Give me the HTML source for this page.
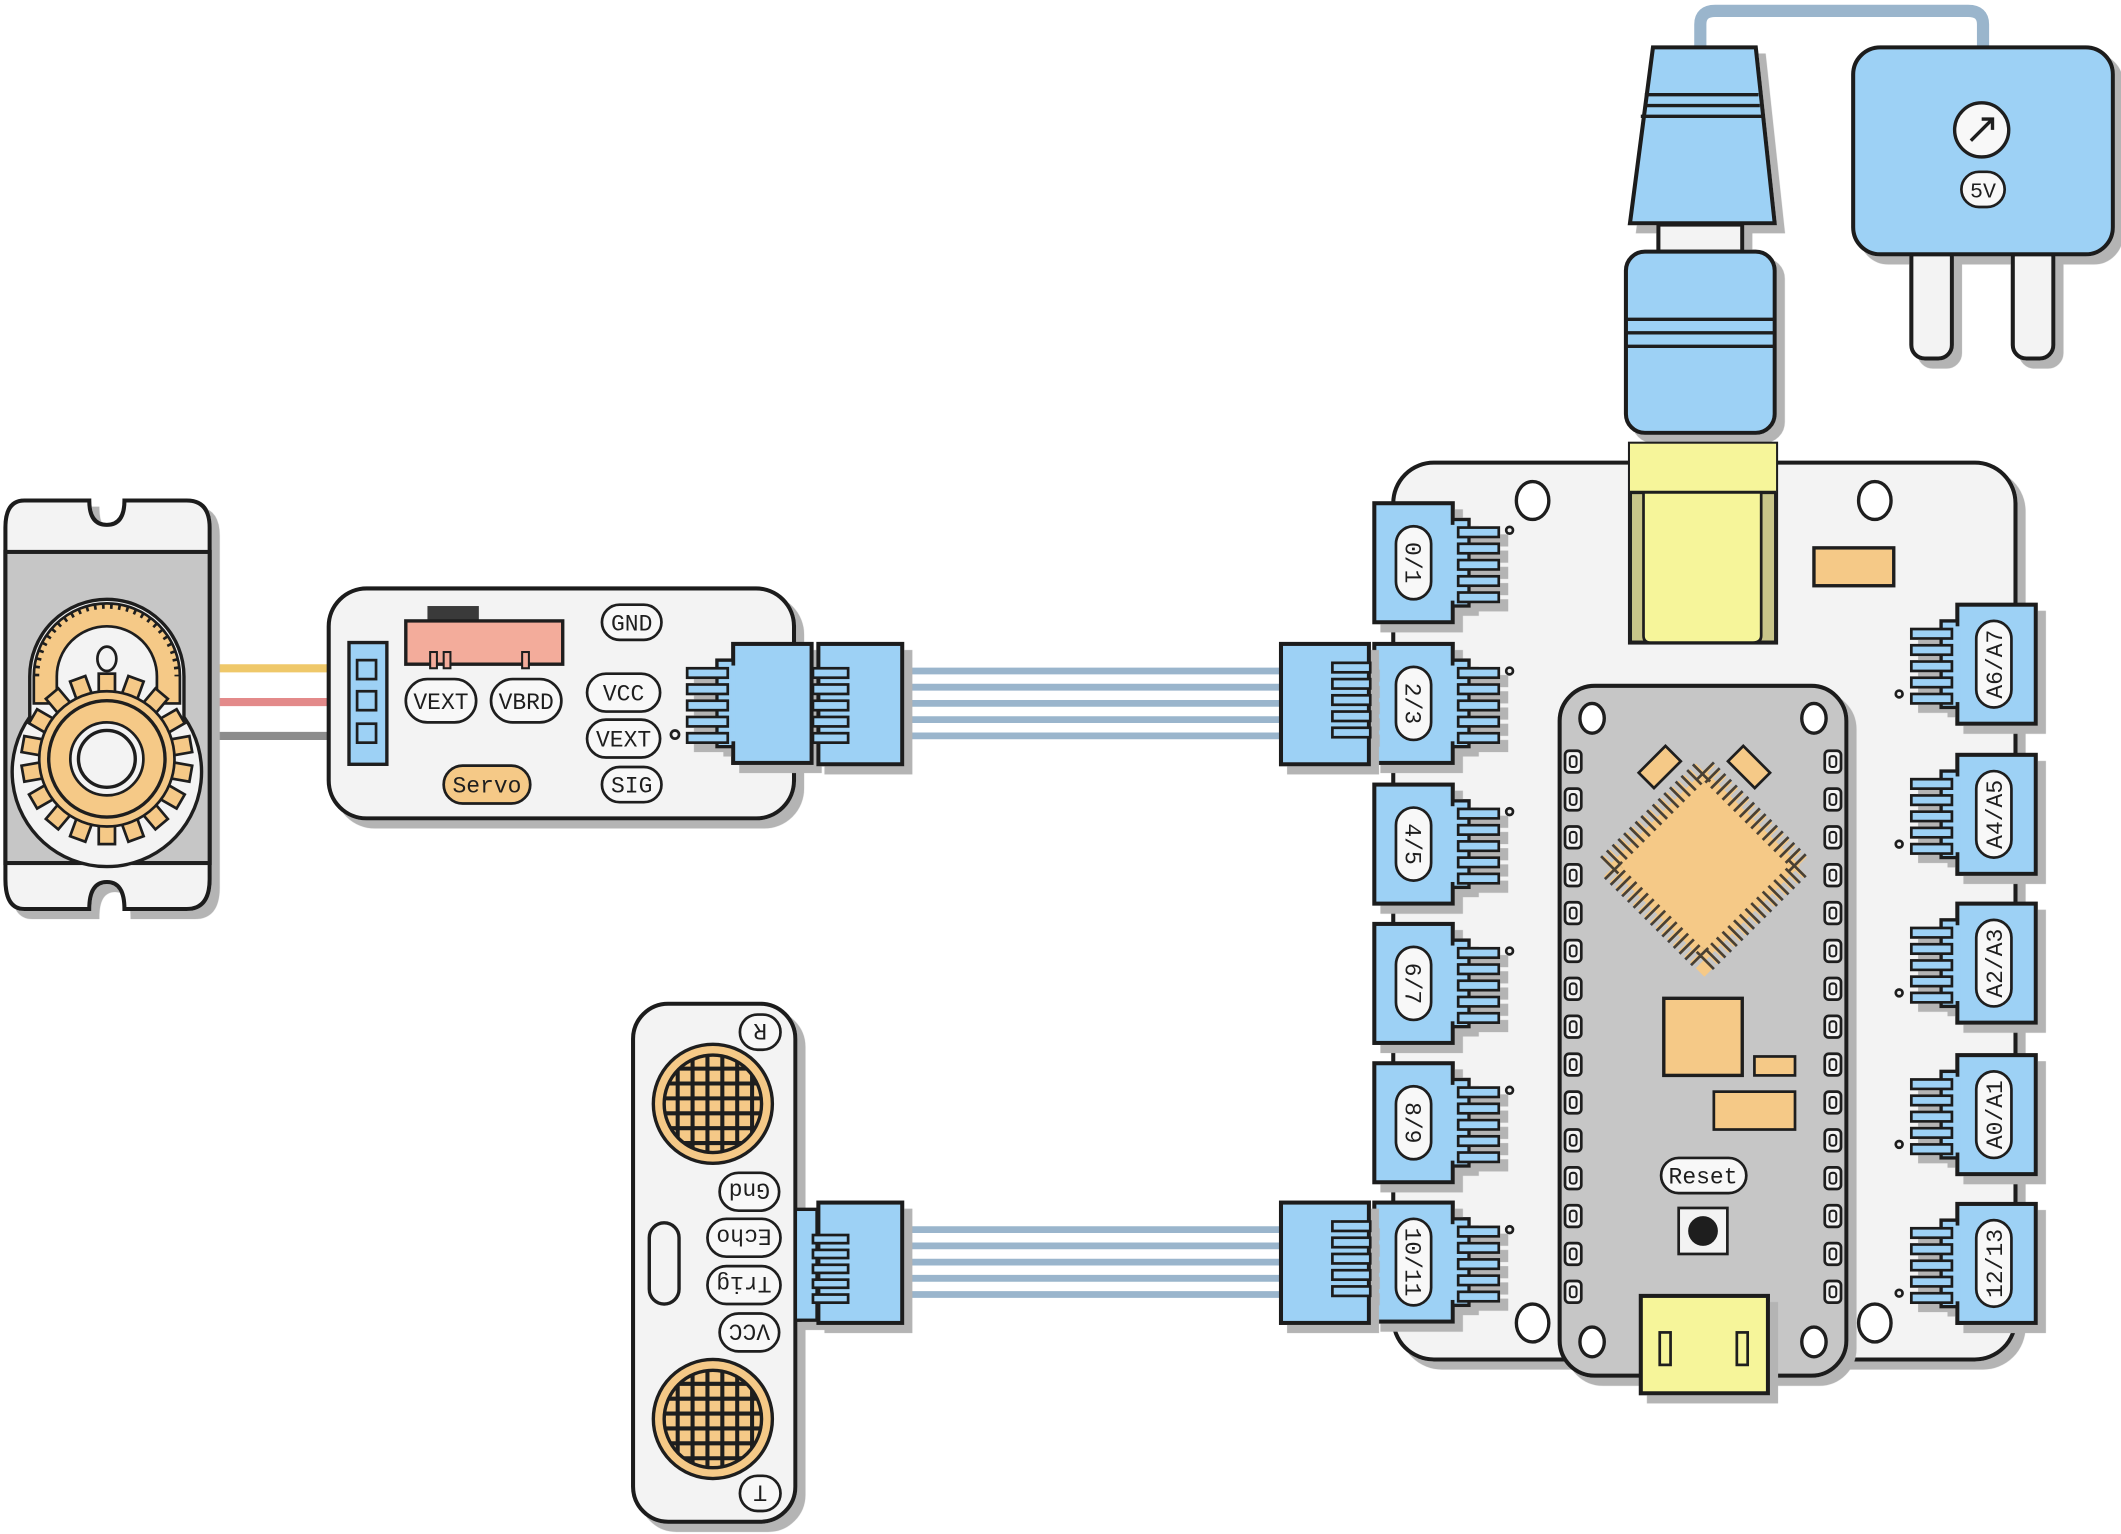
<!DOCTYPE html>
<html><head><meta charset="utf-8"><style>
html,body{margin:0;padding:0;background:#fff;}
svg{display:block;}
text{font-family:"Liberation Mono",monospace;fill:#1e1e1e;}
</style></head><body>
<svg width="2121" height="1534" viewBox="0 0 1568 1134" xmlns="http://www.w3.org/2000/svg">
<defs>
<filter id="sh" x="-10%" y="-10%" width="130%" height="130%"><feDropShadow dx="6" dy="6" stdDeviation="0" flood-color="#b4b4b4"/></filter>
<clipPath id="c1"><circle cx="527" cy="816" r="36"/></clipPath>
<clipPath id="c2"><circle cx="527" cy="1049" r="36"/></clipPath>
<g id="portL">
 <rect x="0" y="0" width="58" height="88" fill="#9dd1f5" stroke="#1e1e1e" stroke-width="3"/>
 <rect x="58" y="12" width="12" height="64" fill="#9dd1f5" stroke="#1e1e1e" stroke-width="2.5"/>
 <rect x="56" y="16" width="4" height="56" fill="#9dd1f5"/>
 <g fill="#9dd1f5" stroke="#1e1e1e" stroke-width="2">
  <rect x="62" y="18" width="30" height="7"/><rect x="62" y="30" width="30" height="7"/>
  <rect x="62" y="42" width="30" height="7"/><rect x="62" y="54" width="30" height="7"/>
  <rect x="62" y="66" width="30" height="7"/>
 </g>
</g>
<g id="pad"><rect x="-6" y="-8" width="12" height="16" rx="3" fill="#f3f3f3" stroke="#1e1e1e" stroke-width="2"/><rect x="-2.5" y="-4" width="5" height="8" rx="2" fill="none" stroke="#1e1e1e" stroke-width="1.5"/></g>
<rect id="tooth" x="-6" y="-63" width="12" height="16" fill="#f5c987" stroke="#1e1e1e" stroke-width="2"/>
</defs>

<!-- power cable -->
<path d="M1257 40 V18 Q1257 8 1268 8 H1455 Q1466 8 1466 18 V40" fill="none" stroke="#9ab5cc" stroke-width="9"/>
<g filter="url(#sh)" stroke="#1e1e1e" stroke-width="3">
 <path d="M1222 35 H1298 L1312 165 H1205 Z" fill="#9dd1f5"/>
 <rect x="1226" y="166" width="62" height="20" fill="#f3f3f3"/>
 <rect x="1202" y="186" width="110" height="134" rx="14" fill="#9dd1f5"/>
</g>
<g stroke="#1e1e1e" stroke-width="2.5">
 <line x1="1216" y1="70" x2="1300" y2="70"/><line x1="1215" y1="78" x2="1301" y2="78"/><line x1="1213" y1="86" x2="1303" y2="86"/>
 <line x1="1202" y1="236" x2="1312" y2="236"/><line x1="1202" y1="246" x2="1312" y2="246"/><line x1="1202" y1="256" x2="1312" y2="256"/>
</g>
<g filter="url(#sh)" stroke="#1e1e1e" stroke-width="3">
 <rect x="1413" y="180" width="30" height="85" rx="10" fill="#f3f3f3"/>
 <rect x="1488" y="180" width="30" height="85" rx="10" fill="#f3f3f3"/>
 <rect x="1370" y="35" width="192" height="153" rx="20" fill="#9dd1f5"/>
</g>
<circle cx="1465" cy="96" r="20" fill="#f8f8f8" stroke="#1e1e1e" stroke-width="2.5"/>
<path d="M1457 104 L1473 88 M1465 88 H1473 V96" fill="none" stroke="#1e1e1e" stroke-width="2.5"/>
<rect x="1450" y="127" width="32" height="26" rx="13" fill="#f8f8f8" stroke="#1e1e1e" stroke-width="2"/>
<text x="1466" y="146" font-size="16" text-anchor="middle">5V</text>

<!-- main board -->
<rect x="1030" y="342" width="460" height="663" rx="30" fill="#f3f3f3" stroke="#1e1e1e" stroke-width="3" filter="url(#sh)"/>
<g fill="#fff" stroke="#1e1e1e" stroke-width="2.5">
 <ellipse cx="1133" cy="370" rx="12" ry="14"/><ellipse cx="1386" cy="370" rx="12" ry="14"/>
 <ellipse cx="1133" cy="978" rx="12" ry="14"/><ellipse cx="1386" cy="978" rx="12" ry="14"/>
</g>
<rect x="1341" y="405" width="59" height="28" fill="#f5c987" stroke="#1e1e1e" stroke-width="2.5"/>
<rect x="1205" y="328" width="108" height="147" fill="#c8c589" stroke="#1e1e1e" stroke-width="3"/>
<rect x="1205" y="328" width="108" height="36" fill="#f6f59a" stroke="none"/>
<line x1="1205" y1="364" x2="1313" y2="364" stroke="#1e1e1e" stroke-width="2.5"/>
<path d="M1215 364 H1302 V470 Q1302 475 1296 475 H1220 Q1215 475 1215 470 Z" fill="#f6f59a" stroke="#1e1e1e" stroke-width="2"/>

<!-- nano -->
<rect x="1153" y="507" width="212" height="510" rx="26" fill="#c6c6c6" stroke="#1e1e1e" stroke-width="3" filter="url(#sh)"/>
<g fill="#fff" stroke="#1e1e1e" stroke-width="2.5">
 <ellipse cx="1177" cy="531" rx="9" ry="11"/><ellipse cx="1341" cy="531" rx="9" ry="11"/>
 <ellipse cx="1177" cy="992" rx="9" ry="11"/><ellipse cx="1341" cy="992" rx="9" ry="11"/>
</g>
<g>
<use href="#pad" x="1163" y="563"/><use href="#pad" x="1163" y="591"/><use href="#pad" x="1163" y="619"/><use href="#pad" x="1163" y="647"/><use href="#pad" x="1163" y="675"/><use href="#pad" x="1163" y="703"/><use href="#pad" x="1163" y="731"/><use href="#pad" x="1163" y="759"/><use href="#pad" x="1163" y="787"/><use href="#pad" x="1163" y="815"/><use href="#pad" x="1163" y="843"/><use href="#pad" x="1163" y="871"/><use href="#pad" x="1163" y="899"/><use href="#pad" x="1163" y="927"/><use href="#pad" x="1163" y="955"/>
<use href="#pad" x="1355" y="563"/><use href="#pad" x="1355" y="591"/><use href="#pad" x="1355" y="619"/><use href="#pad" x="1355" y="647"/><use href="#pad" x="1355" y="675"/><use href="#pad" x="1355" y="703"/><use href="#pad" x="1355" y="731"/><use href="#pad" x="1355" y="759"/><use href="#pad" x="1355" y="787"/><use href="#pad" x="1355" y="815"/><use href="#pad" x="1355" y="843"/><use href="#pad" x="1355" y="871"/><use href="#pad" x="1355" y="899"/><use href="#pad" x="1355" y="927"/><use href="#pad" x="1355" y="955"/>
</g>
<g transform="translate(1260 640) rotate(45)">
 <rect x="-50" y="-50" width="100" height="100" fill="#f5c987" stroke="#f5c987" stroke-width="16" stroke-dasharray="3 3"/>
 <rect x="-50" y="-50" width="100" height="100" fill="none" stroke="#1e1e1e" stroke-width="18" stroke-dasharray="2 4" opacity="0.8"/>
 <rect x="-44" y="-44" width="88" height="88" fill="#f5c987" stroke="none"/>
</g>
<g fill="#f5c987" stroke="#1e1e1e" stroke-width="2">
 <rect x="-8" y="-14" width="16" height="28" transform="translate(1227 567) rotate(45)"/>
 <rect x="-8" y="-14" width="16" height="28" transform="translate(1293 567) rotate(-45)"/>
 <rect x="1230" y="738" width="58" height="57" stroke-width="2.5"/>
 <rect x="1297" y="781" width="30" height="14"/>
 <rect x="1267" y="807" width="60" height="28"/>
</g>
<rect x="1228" y="856" width="63" height="26" rx="13" fill="#f8f8f8" stroke="#1e1e1e" stroke-width="2"/>
<text x="1259" y="875" font-size="17" text-anchor="middle">Reset</text>
<rect x="1241" y="893" width="36" height="34" fill="#f3f3f3" stroke="#1e1e1e" stroke-width="2"/>
<circle cx="1259" cy="910" r="11" fill="#1e1e1e"/>
<rect x="1213" y="958" width="94" height="72" fill="#f6f59a" stroke="#1e1e1e" stroke-width="3" filter="url(#sh)"/>
<rect x="1227" y="985" width="8" height="24" fill="#f6f59a" stroke="#1e1e1e" stroke-width="2"/>
<rect x="1284" y="985" width="8" height="24" fill="#f6f59a" stroke="#1e1e1e" stroke-width="2"/>

<!-- left ports -->
<g filter="url(#sh)">
<use href="#portL" x="1016" y="372"/><use href="#portL" x="1016" y="476"/><use href="#portL" x="1016" y="580"/>
<use href="#portL" x="1016" y="683"/><use href="#portL" x="1016" y="786"/><use href="#portL" x="1016" y="889"/>
</g>
<g fill="#f3f3f3" stroke="#1e1e1e" stroke-width="2">
<circle cx="1116" cy="392" r="2.5"/><circle cx="1116" cy="496" r="2.5"/><circle cx="1116" cy="600" r="2.5"/><circle cx="1116" cy="703" r="2.5"/><circle cx="1116" cy="806" r="2.5"/><circle cx="1116" cy="909" r="2.5"/>
</g>
<g font-size="17" text-anchor="middle">
<g transform="translate(1045 416) rotate(90)"><rect x="-27" y="-13" width="54" height="26" rx="13" fill="#f8f8f8" stroke="#1e1e1e" stroke-width="2"/><text y="6">0/1</text></g>
<g transform="translate(1045 520) rotate(90)"><rect x="-27" y="-13" width="54" height="26" rx="13" fill="#f8f8f8" stroke="#1e1e1e" stroke-width="2"/><text y="6">2/3</text></g>
<g transform="translate(1045 624) rotate(90)"><rect x="-27" y="-13" width="54" height="26" rx="13" fill="#f8f8f8" stroke="#1e1e1e" stroke-width="2"/><text y="6">4/5</text></g>
<g transform="translate(1045 727) rotate(90)"><rect x="-27" y="-13" width="54" height="26" rx="13" fill="#f8f8f8" stroke="#1e1e1e" stroke-width="2"/><text y="6">6/7</text></g>
<g transform="translate(1045 830) rotate(90)"><rect x="-27" y="-13" width="54" height="26" rx="13" fill="#f8f8f8" stroke="#1e1e1e" stroke-width="2"/><text y="6">8/9</text></g>
<g transform="translate(1045 933) rotate(90)"><rect x="-32" y="-13" width="64" height="26" rx="13" fill="#f8f8f8" stroke="#1e1e1e" stroke-width="2"/><text y="6">10/11</text></g>
</g>

<!-- right ports -->
<g filter="url(#sh)">
<use href="#portL" transform="translate(1505 447) scale(-1 1)"/>
<use href="#portL" transform="translate(1505 558) scale(-1 1)"/>
<use href="#portL" transform="translate(1505 668) scale(-1 1)"/>
<use href="#portL" transform="translate(1505 780) scale(-1 1)"/>
<use href="#portL" transform="translate(1505 890) scale(-1 1)"/>
</g>
<g fill="#f3f3f3" stroke="#1e1e1e" stroke-width="2">
<circle cx="1404" cy="513" r="2.5"/><circle cx="1404" cy="624" r="2.5"/><circle cx="1404" cy="734" r="2.5"/><circle cx="1404" cy="846" r="2.5"/><circle cx="1404" cy="956" r="2.5"/>
</g>
<g font-size="17" text-anchor="middle">
<g transform="translate(1474 491) rotate(-90)"><rect x="-32" y="-13" width="64" height="26" rx="13" fill="#f8f8f8" stroke="#1e1e1e" stroke-width="2"/><text y="6">A6/A7</text></g>
<g transform="translate(1474 602) rotate(-90)"><rect x="-32" y="-13" width="64" height="26" rx="13" fill="#f8f8f8" stroke="#1e1e1e" stroke-width="2"/><text y="6">A4/A5</text></g>
<g transform="translate(1474 712) rotate(-90)"><rect x="-32" y="-13" width="64" height="26" rx="13" fill="#f8f8f8" stroke="#1e1e1e" stroke-width="2"/><text y="6">A2/A3</text></g>
<g transform="translate(1474 824) rotate(-90)"><rect x="-32" y="-13" width="64" height="26" rx="13" fill="#f8f8f8" stroke="#1e1e1e" stroke-width="2"/><text y="6">A0/A1</text></g>
<g transform="translate(1474 934) rotate(-90)"><rect x="-32" y="-13" width="64" height="26" rx="13" fill="#f8f8f8" stroke="#1e1e1e" stroke-width="2"/><text y="6">12/13</text></g>
</g>

<!-- cables -->
<g stroke="#9ab5cc" stroke-width="5">
<line x1="665" y1="496" x2="950" y2="496"/><line x1="665" y1="508" x2="950" y2="508"/><line x1="665" y1="520" x2="950" y2="520"/><line x1="665" y1="532" x2="950" y2="532"/><line x1="665" y1="544" x2="950" y2="544"/>
<line x1="665" y1="909" x2="950" y2="909"/><line x1="665" y1="921" x2="950" y2="921"/><line x1="665" y1="933" x2="950" y2="933"/><line x1="665" y1="945" x2="950" y2="945"/><line x1="665" y1="957" x2="950" y2="957"/>
</g>
<g filter="url(#sh)">
<g transform="translate(947 476)"><rect x="0" y="0" width="65" height="89" fill="#9dd1f5" stroke="#1e1e1e" stroke-width="3"/>
<g fill="#9dd1f5" stroke="#1e1e1e" stroke-width="2"><rect x="38" y="14" width="28" height="7"/><rect x="38" y="26" width="28" height="7"/><rect x="38" y="38" width="28" height="7"/><rect x="38" y="50" width="28" height="7"/><rect x="38" y="62" width="28" height="7"/></g></g>
<g transform="translate(947 889)"><rect x="0" y="0" width="65" height="89" fill="#9dd1f5" stroke="#1e1e1e" stroke-width="3"/>
<g fill="#9dd1f5" stroke="#1e1e1e" stroke-width="2"><rect x="38" y="14" width="28" height="7"/><rect x="38" y="26" width="28" height="7"/><rect x="38" y="38" width="28" height="7"/><rect x="38" y="50" width="28" height="7"/><rect x="38" y="62" width="28" height="7"/></g></g>
</g>

<!-- servo wires -->
<line x1="155" y1="494" x2="245" y2="494" stroke="#efc86a" stroke-width="6"/>
<line x1="155" y1="519" x2="245" y2="519" stroke="#e38a8a" stroke-width="6"/>
<line x1="155" y1="544" x2="245" y2="544" stroke="#8c8c8c" stroke-width="6"/>

<!-- servo -->
<g filter="url(#sh)">
<path d="M18 370 H66 Q66 388 79 388 Q92 388 92 370 H138 Q155 370 155 390 V650 Q155 672 138 672 H92 Q92 652 79 652 Q66 652 66 672 H18 Q4 672 4 650 V390 Q4 370 18 370 Z" fill="#f3f3f3" stroke="#1e1e1e" stroke-width="3"/>
</g>
<rect x="4" y="408" width="151" height="230" fill="#c6c6c6" stroke="#1e1e1e" stroke-width="3"/>
<path d="M22 500 A57 57 0 0 1 136 500 V530 A70 70 0 1 1 22 530 Z" fill="#f3f3f3" stroke="#1e1e1e" stroke-width="2.5"/>
<path d="M25 500 A54 54 0 0 1 133 500 V520 H116 V500 A37 37 0 0 0 42 500 V520 H25 Z" fill="#f5c987" stroke="#1e1e1e" stroke-width="2"/>
<path d="M27 500 A52 52 0 0 1 131 500" fill="none" stroke="#1e1e1e" stroke-width="4" stroke-dasharray="2 4"/>
<ellipse cx="79" cy="487" rx="7" ry="9" fill="#f3f3f3" stroke="#1e1e1e" stroke-width="2"/>
<g transform="translate(79 561)">
<use href="#tooth" transform="rotate(0)"/><use href="#tooth" transform="rotate(20)"/><use href="#tooth" transform="rotate(40)"/><use href="#tooth" transform="rotate(60)"/><use href="#tooth" transform="rotate(80)"/><use href="#tooth" transform="rotate(100)"/><use href="#tooth" transform="rotate(120)"/><use href="#tooth" transform="rotate(140)"/><use href="#tooth" transform="rotate(160)"/><use href="#tooth" transform="rotate(180)"/><use href="#tooth" transform="rotate(200)"/><use href="#tooth" transform="rotate(220)"/><use href="#tooth" transform="rotate(240)"/><use href="#tooth" transform="rotate(260)"/><use href="#tooth" transform="rotate(280)"/><use href="#tooth" transform="rotate(300)"/><use href="#tooth" transform="rotate(320)"/><use href="#tooth" transform="rotate(340)"/>
<circle r="50" fill="#f5c987" stroke="#1e1e1e" stroke-width="2"/>
<circle r="43" fill="#f5c987" stroke="#1e1e1e" stroke-width="2.5"/>
<circle r="27" fill="#f3f3f3" stroke="#1e1e1e" stroke-width="2"/>
<circle r="21" fill="#f3f3f3" stroke="#1e1e1e" stroke-width="2.5"/>
</g>

<!-- servo board -->
<rect x="243" y="435" width="344" height="170" rx="28" fill="#f3f3f3" stroke="#1e1e1e" stroke-width="3" filter="url(#sh)"/>
<rect x="258" y="475" width="28" height="90" fill="#9dd1f5" stroke="#1e1e1e" stroke-width="2.5"/>
<g fill="#9dd1f5" stroke="#1e1e1e" stroke-width="2"><rect x="264" y="488" width="14" height="14"/><rect x="264" y="511" width="14" height="14"/><rect x="264" y="535" width="14" height="14"/></g>
<rect x="316" y="448" width="38" height="12" fill="#3a3a3a"/>
<rect x="300" y="459" width="116" height="32" fill="#f3ac9b" stroke="#1e1e1e" stroke-width="2.5"/>
<g fill="#f3ac9b" stroke="#1e1e1e" stroke-width="1.5"><rect x="318" y="482" width="5" height="12"/><rect x="328" y="482" width="5" height="12"/><rect x="386" y="482" width="5" height="12"/></g>
<g font-size="17" text-anchor="middle" stroke-width="2">
<rect x="300" y="502" width="52" height="32" rx="16" fill="#f8f8f8" stroke="#1e1e1e"/><text x="326" y="524">VEXT</text>
<rect x="363" y="502" width="52" height="32" rx="16" fill="#f8f8f8" stroke="#1e1e1e"/><text x="389" y="524">VBRD</text>
<rect x="445" y="447" width="44" height="26" rx="13" fill="#f8f8f8" stroke="#1e1e1e"/><text x="467" y="466">GND</text>
<rect x="434" y="498" width="54" height="28" rx="14" fill="#f8f8f8" stroke="#1e1e1e"/><text x="461" y="518">VCC</text>
<rect x="434" y="532" width="54" height="28" rx="14" fill="#f8f8f8" stroke="#1e1e1e"/><text x="461" y="552">VEXT</text>
<rect x="445" y="567" width="44" height="26" rx="13" fill="#f8f8f8" stroke="#1e1e1e"/><text x="467" y="586">SIG</text>
<rect x="328" y="566" width="64" height="28" rx="14" fill="#f5c987" stroke="#1e1e1e"/><text x="360" y="586">Servo</text>
</g>
<circle cx="499" cy="543" r="3" fill="#f3f3f3" stroke="#1e1e1e" stroke-width="2"/>
<g filter="url(#sh)">
<use href="#portL" transform="translate(600 476) scale(-1 1)"/>
<g transform="translate(605 476)"><rect x="0" y="0" width="62" height="89" fill="#9dd1f5" stroke="#1e1e1e" stroke-width="3"/>
<g fill="#9dd1f5" stroke="#1e1e1e" stroke-width="2"><rect x="-4" y="18" width="26" height="7"/><rect x="-4" y="30" width="26" height="7"/><rect x="-4" y="42" width="26" height="7"/><rect x="-4" y="54" width="26" height="7"/><rect x="-4" y="66" width="26" height="7"/></g></g>
</g>

<!-- ultrasonic -->
<rect x="468" y="742" width="120" height="383" rx="26" fill="#f3f3f3" stroke="#1e1e1e" stroke-width="3" filter="url(#sh)"/>
<circle cx="527" cy="816" r="44" fill="#f5c987" stroke="#1e1e1e" stroke-width="2.5"/>
<g stroke="#1e1e1e" stroke-width="3" clip-path="url(#c1)">
<path d="M485 790H569M485 801H569M485 812H569M485 823H569M485 834H569M485 845H569M501 770V862M512 770V862M523 770V862M534 770V862M545 770V862M556 770V862"/></g>
<circle cx="527" cy="816" r="36" fill="none" stroke="#1e1e1e" stroke-width="2.5"/>
<circle cx="527" cy="1049" r="44" fill="#f5c987" stroke="#1e1e1e" stroke-width="2.5"/>
<g stroke="#1e1e1e" stroke-width="3" clip-path="url(#c2)">
<path d="M485 1023H569M485 1034H569M485 1045H569M485 1056H569M485 1067H569M485 1078H569M501 1003V1095M512 1003V1095M523 1003V1095M534 1003V1095M545 1003V1095M556 1003V1095"/></g>
<circle cx="527" cy="1049" r="36" fill="none" stroke="#1e1e1e" stroke-width="2.5"/>
<rect x="480" y="904" width="22" height="60" rx="11" fill="#f3f3f3" stroke="#1e1e1e" stroke-width="2.5"/>
<g font-size="17" text-anchor="middle" stroke-width="2">
<g transform="translate(562 763) rotate(180)"><rect x="-15" y="-13" width="30" height="26" rx="13" fill="#f8f8f8" stroke="#1e1e1e"/><text y="6">R</text></g>
<g transform="translate(562 1104) rotate(180)"><rect x="-15" y="-13" width="30" height="26" rx="13" fill="#f8f8f8" stroke="#1e1e1e"/><text y="6">T</text></g>
<g transform="translate(554 881) rotate(180)"><rect x="-22" y="-14" width="44" height="28" rx="14" fill="#f8f8f8" stroke="#1e1e1e"/><text y="6">Gnd</text></g>
<g transform="translate(550 915) rotate(180)"><rect x="-27" y="-14" width="54" height="28" rx="14" fill="#f8f8f8" stroke="#1e1e1e"/><text y="6">Echo</text></g>
<g transform="translate(550 950) rotate(180)"><rect x="-27" y="-14" width="54" height="28" rx="14" fill="#f8f8f8" stroke="#1e1e1e"/><text y="6">Trig</text></g>
<g transform="translate(554 985) rotate(180)"><rect x="-22" y="-14" width="44" height="28" rx="14" fill="#f8f8f8" stroke="#1e1e1e"/><text y="6">VCC</text></g>
</g>
<g filter="url(#sh)">
<rect x="588" y="894" width="16" height="82" fill="#9dd1f5" stroke="#1e1e1e" stroke-width="2.5"/>
<g transform="translate(605 889)"><rect x="0" y="0" width="62" height="89" fill="#9dd1f5" stroke="#1e1e1e" stroke-width="3"/>
<g fill="#9dd1f5" stroke="#1e1e1e" stroke-width="2"><rect x="-4" y="24" width="26" height="6"/><rect x="-4" y="35" width="26" height="6"/><rect x="-4" y="46" width="26" height="6"/><rect x="-4" y="57" width="26" height="6"/><rect x="-4" y="68" width="26" height="6"/></g></g>
</g>
</svg>
</body></html>
